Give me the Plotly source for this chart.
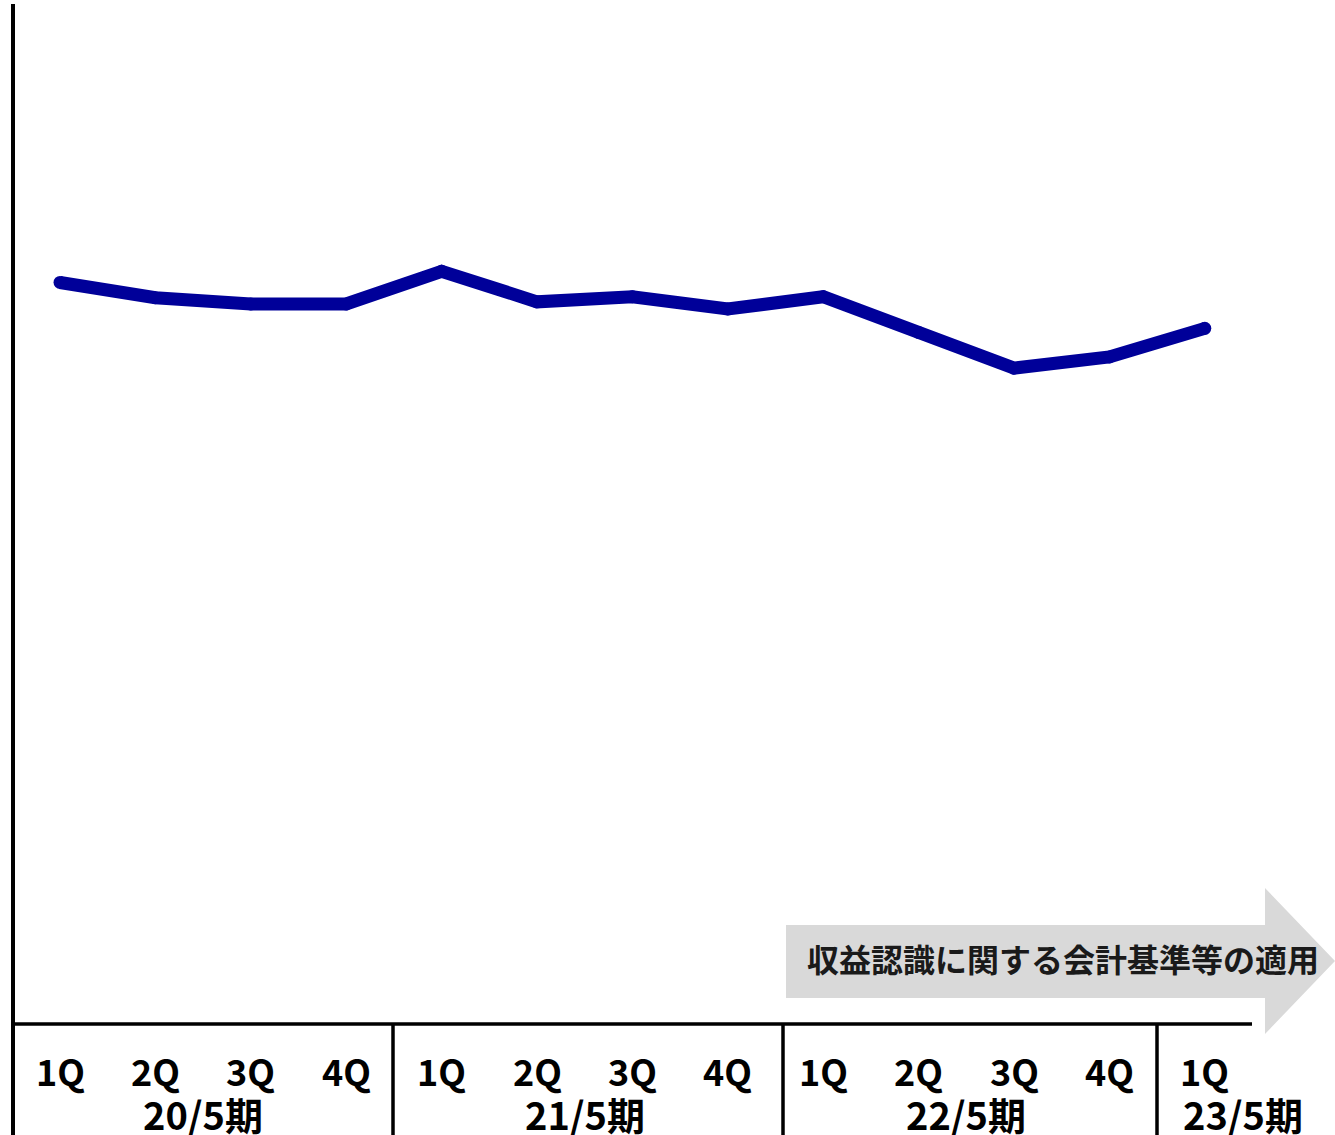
import plotly.graph_objects as go

# data
quarters = ["1Q", "2Q", "3Q", "4Q", "1Q", "2Q", "3Q", "4Q", "1Q", "2Q", "3Q", "4Q", "1Q"]
values = [72.7, 71.2, 70.6, 70.6, 73.8, 70.8, 71.3, 70.1, 71.3, 67.8, 64.3, 65.4, 68.2]
periods = ["20/5期", "21/5期", "22/5期", "23/5期"]
period_quarters = [[0, 1, 2, 3], [4, 5, 6, 7], [8, 9, 10, 11], [12]]
arrow_text = "収益認識に関する会計基準等の適用"

W, H = 1335, 1135
L, R, T, B = 13, 0, 4, 111
PW, PH = W - L - R, H - T - B
FONT = "Noto Sans CJK JP"


def px(x):
    return (x - L) / PW


def py(y):
    return (H - B - y) / PH


xs = list(range(len(values)))

fig = go.Figure()
# markers give the rounded line ends
fig.add_trace(go.Scatter(
    x=xs, y=values, mode="lines+markers",
    line=dict(color="#000099", width=13),
    marker=dict(color="#000099", size=13, line=dict(width=0)),
    hoverinfo="skip", showlegend=False,
))

shapes = []
# left axis line
shapes.append(dict(type="line", xref="paper", yref="paper", x0=0, x1=0,
                   y0=py(H), y1=1, line=dict(color="black", width=4)))
# bottom line
shapes.append(dict(type="line", xref="paper", yref="paper", x0=0, x1=px(1252),
                   y0=0, y1=0, line=dict(color="black", width=3.5)))
# dividers between fiscal years
for d in [393, 783, 1157]:
    shapes.append(dict(type="line", xref="paper", yref="paper", x0=px(d), x1=px(d),
                       y0=py(H), y1=0, line=dict(color="black", width=3.5)))
# gray arrow
pts = [(786, 925), (1265, 925), (1265, 888), (1335, 961), (1265, 1034), (1265, 998), (786, 998)]
path = "M " + " L ".join(f"{px(a):.5f},{py(b):.5f}" for a, b in pts) + " Z"
shapes.append(dict(type="path", xref="paper", yref="paper", path=path,
                   fillcolor="#D9D9D9", line=dict(width=0), layer="below"))

annotations = []
for i, q in enumerate(quarters):
    annotations.append(dict(x=i, y=py(1070), xref="x", yref="paper", text=q,
                            showarrow=False, xanchor="center", yanchor="middle",
                            font=dict(family=FONT, size=36, color="black", weight="bold")))
for name, idx in zip(periods, period_quarters):
    if len(idx) > 1:
        annotations.append(dict(x=sum(idx) / len(idx), y=py(1113), xref="x", yref="paper",
                                text=name, showarrow=False, xanchor="center", yanchor="middle",
                                font=dict(family=FONT, size=38, color="black", weight="bold")))
    else:
        annotations.append(dict(x=idx[0], y=py(1113), xref="x", yref="paper", xshift=-24,
                                text=name, showarrow=False, xanchor="left", yanchor="middle",
                                font=dict(family=FONT, size=38, color="black", weight="bold")))
annotations.append(dict(x=px(1063), y=py(958), xref="paper", yref="paper", text=arrow_text,
                        showarrow=False, xanchor="center", yanchor="middle",
                        font=dict(family=FONT, size=32, color="#1a1a1a", weight="bold")))

spacing = 95.4
x0 = 60
fig.update_layout(
    width=W, height=H,
    margin=dict(l=L, r=R, t=T, b=B),
    paper_bgcolor="white", plot_bgcolor="white",
    xaxis=dict(range=[(L - x0) / spacing, (W - x0) / spacing], visible=False, fixedrange=True),
    yaxis=dict(range=[0, 100], visible=False, fixedrange=True),
    shapes=shapes, annotations=annotations,
    showlegend=False,
)

fig.write_html("out.html", config={"displayModeBar": False},
               post_script="document.body.style.margin='0';document.body.style.overflow='hidden';")
